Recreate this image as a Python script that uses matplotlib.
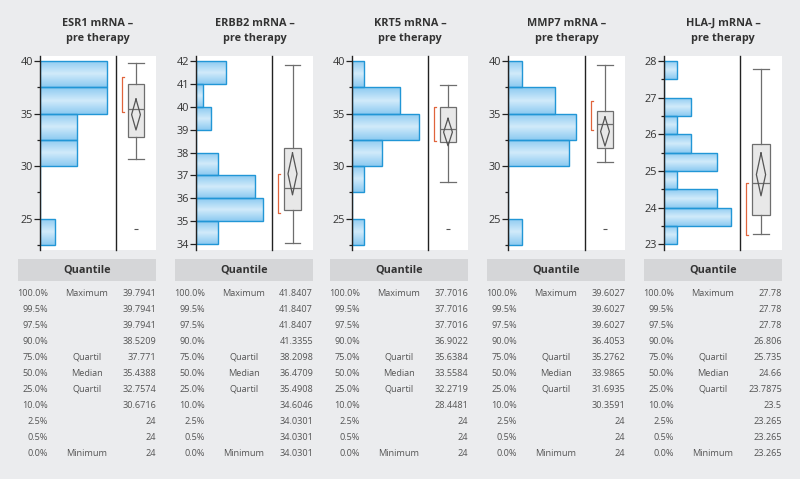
import numpy as np
import matplotlib
matplotlib.use("Agg")
import matplotlib.pyplot as plt
from matplotlib.patches import Rectangle
from matplotlib.ticker import MultipleLocator
from matplotlib.colors import LinearSegmentedColormap

plt.rcParams['font.family'] = ['Open Sans', 'DejaVu Sans']

W, H = 800, 479
BG = '#ebecee'

# --- data ---
genes = ['ESR1', 'ERBB2', 'KRT5', 'MMP7', 'HLA-J']

# histogram bins (lower edges), bin width and counts
esr1_bins = [22.5, 25, 27.5, 30, 32.5, 35, 37.5]
esr1_counts = [2, 0, 0, 5, 5, 9, 9]
erbb2_bins = [34, 35, 36, 37, 38, 39, 40, 41]
erbb2_counts = [3, 9, 8, 3, 0, 2, 1, 4]
krt5_bins = [22.5, 25, 27.5, 30, 32.5, 35, 37.5]
krt5_counts = [2, 0, 2, 5, 11, 8, 2]
mmp7_bins = [22.5, 25, 27.5, 30, 32.5, 35, 37.5]
mmp7_counts = [2, 0, 0, 9, 10, 7, 2]
hlaj_bins = [23, 23.5, 24, 24.5, 25, 25.5, 26, 26.5, 27, 27.5]
hlaj_counts = [1, 5, 4, 1, 4, 2, 1, 2, 0, 1]
bin_widths = [2.5, 1, 2.5, 2.5, 0.5]

# quantile tables
quant_levels = ['100.0%', '99.5%', '97.5%', '90.0%', '75.0%', '50.0%',
                '25.0%', '10.0%', '2.5%', '0.5%', '0.0%']
quant_names = ['Maximum', '', '', '', 'Quartil', 'Median', 'Quartil',
               '', '', '', 'Minimum']
esr1_q = ['39.7941', '39.7941', '39.7941', '38.5209', '37.771', '35.4388',
          '32.7574', '30.6716', '24', '24', '24']
erbb2_q = ['41.8407', '41.8407', '41.8407', '41.3355', '38.2098', '36.4709',
           '35.4908', '34.6046', '34.0301', '34.0301', '34.0301']
krt5_q = ['37.7016', '37.7016', '37.7016', '36.9022', '35.6384', '33.5584',
          '32.2719', '28.4481', '24', '24', '24']
mmp7_q = ['39.6027', '39.6027', '39.6027', '36.4053', '35.2762', '33.9865',
          '31.6935', '30.3591', '24', '24', '24']
hlaj_q = ['27.78', '27.78', '27.78', '26.806', '25.735', '24.66',
          '23.7875', '23.5', '23.265', '23.265', '23.265']

# whisker ends and outliers
whisker_lo = [30.6716, 34.0301, 28.4481, 30.3591, 23.265]
outliers = [[24], [], [24], [24], []]
# mean diamond (mean, lower CI, upper CI) and shortest half
means = [34.9, 37.07, 33.23, 33.28, 24.9]
mean_ci = [(33.43, 36.38), (36.15, 37.98), (31.93, 34.54), (31.9, 34.67), (24.32, 25.49)]
shortest_half = [(35.1, 38.48), (35.36, 37.07), (32.38, 35.62), (33.43, 36.19), (23.25, 24.67)]

bins_all = [esr1_bins, erbb2_bins, krt5_bins, mmp7_bins, hlaj_bins]
counts_all = [esr1_counts, erbb2_counts, krt5_counts, mmp7_counts, hlaj_counts]
q_all = [esr1_q, erbb2_q, krt5_q, mmp7_q, hlaj_q]

# --- layout (pixels) ---
yaxis_x = [40, 196, 352, 508, 664]
divider_x = [116, 272, 428, 585, 740]
right_x = [156, 313, 468, 625, 782]
ylims = [(22.0, 40.48), (33.74, 42.22), (22.0, 40.48), (22.0, 40.48), (22.84, 28.14)]
major = [5, 1, 5, 5, 1]
minor = [2.5, None, 2.5, 2.5, 0.5]
plot_top, plot_bot = 56, 250


def rect(x0, y0, x1, y1):
    return [x0 / W, 1 - y1 / H, (x1 - x0) / W, (y1 - y0) / H]


fig = plt.figure(figsize=(W / 100, H / 100), dpi=100, facecolor=BG)

# vertical gradient inside each bar: lighter in the middle
grad = np.abs(np.linspace(-1, 1, 64))[:, None]
bar_cmap = LinearSegmentedColormap.from_list('bar', ['#d0eafa', '#8ccaf1'])

for i, g in enumerate(genes):
    ax = fig.add_axes(rect(yaxis_x[i], plot_top, divider_x[i], plot_bot))
    ax.set_facecolor('white')
    bars = ax.barh(bins_all[i], counts_all[i], height=bin_widths[i], align='edge',
                   color='none', edgecolor='#2196d6', linewidth=1.0, zorder=3)
    for b in bars:
        if b.get_width() == 0:
            continue
        x0, y0 = b.get_x(), b.get_y()
        im = ax.imshow(grad, cmap=bar_cmap, aspect='auto', zorder=2,
                       extent=[x0, x0 + b.get_width(), y0, y0 + b.get_height()])
        im.set_clip_path(b)
    ax.set_xlim(0, max(counts_all[i]) * 1.14)
    ax.set_ylim(*ylims[i])
    ax.set_xticks([])
    for s in ['top', 'right', 'bottom']:
        ax.spines[s].set_visible(False)
    ax.spines['left'].set_linewidth(1.0)
    ax.spines['left'].set_color('#222222')
    ax.spines['left'].set_zorder(6)
    ax.yaxis.set_major_locator(MultipleLocator(major[i]))
    if minor[i]:
        ax.yaxis.set_minor_locator(MultipleLocator(minor[i]))
    ax.tick_params(axis='y', which='major', length=4, width=0.9, labelsize=7.8,
                   labelcolor='#333333', color='#222222', pad=1)
    ax.tick_params(axis='y', which='minor', length=2.5, width=0.9, color='#222222')

    # box plot area
    bx = fig.add_axes(rect(divider_x[i], plot_top, right_x[i], plot_bot))
    bx.set_facecolor('white')
    bx.set_xlim(0, 1)
    bx.set_ylim(*ylims[i])
    bx.set_xticks([])
    bx.set_yticks([])
    for s in ['top', 'right', 'bottom']:
        bx.spines[s].set_visible(False)
    bx.spines['left'].set_linewidth(1.0)
    bx.spines['left'].set_color('#222222')
    q = [float(v) for v in q_all[i]]
    stats = [dict(whislo=whisker_lo[i], q1=q[6], med=q[5], q3=q[4],
                  whishi=q[0], fliers=outliers[i])]
    bx.bxp(stats, positions=[0.5], widths=0.42, capwidths=0.38, patch_artist=True,
           boxprops=dict(facecolor='#e8e8e8', edgecolor='#6e6e6e', linewidth=0.9),
           whiskerprops=dict(color='#6e6e6e', linewidth=0.9),
           capprops=dict(color='#6e6e6e', linewidth=0.9),
           medianprops=dict(color='#6e6e6e', linewidth=0.9),
           flierprops=dict(marker='_', markersize=3, markeredgecolor='#555555',
                           markeredgewidth=0.8),
           manage_ticks=False)
    lo, hi = mean_ci[i]
    bx.plot([0.5, 0.61, 0.5, 0.39, 0.5], [hi, means[i], lo, means[i], hi],
            color='#555555', linewidth=0.9, zorder=5)
    s0, s1 = shortest_half[i]
    bx.plot([0.2, 0.15, 0.15, 0.2], [s0, s0, s1, s1], color='#e0643c',
            linewidth=0.9, zorder=5)

    cx = (yaxis_x[i] + right_x[i]) / 2
    fig.text(cx / W, 1 - 23 / H, f'{g} mRNA –', ha='center', va='center',
             fontsize=7.8, fontweight='bold', color='#333333')
    fig.text(cx / W, 1 - 39 / H, 'pre therapy', ha='center', va='center',
             fontsize=7.8, fontweight='bold', color='#333333')

    # quantile table
    hl, hr = right_x[i] - 138, right_x[i]
    fig.patches.append(Rectangle((hl / W, 1 - 281 / H), (hr - hl) / W, 22 / H,
                                 transform=fig.transFigure, facecolor='#d5d6d8',
                                 edgecolor='none'))
    fig.text((hl + hr) / 2 / W, 1 - 270 / H, 'Quantile', ha='center', va='center',
             fontsize=7.8, fontweight='bold', color='#333333')
    for k in range(len(quant_levels)):
        yy = 1 - (293 + 16 * k) / H
        fig.text((hl + 30) / W, yy, quant_levels[k], ha='right', va='center',
                 fontsize=6.6, color='#555555')
        fig.text((hl + 69) / W, yy, quant_names[k], ha='center', va='center',
                 fontsize=6.6, color='#555555')
        fig.text(hr / W, yy, q_all[i][k], ha='right', va='center',
                 fontsize=6.6, color='#555555')

fig.savefig('out.png', dpi=100, facecolor=BG)
